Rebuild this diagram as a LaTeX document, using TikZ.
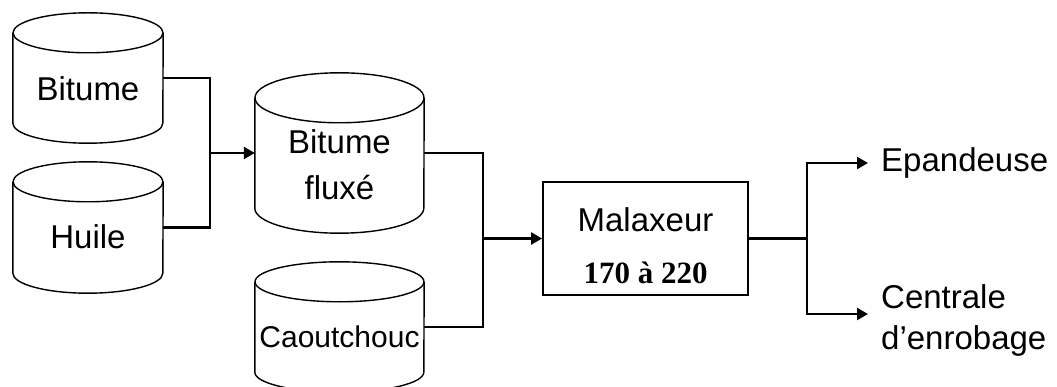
\documentclass[tikz,border=0pt]{standalone}
\usepackage{fontspec}
\setmainfont{Liberation Sans}
\newfontfamily\numfont{Liberation Serif}
\usetikzlibrary{arrows.meta}

% tank outline: node name, x radius, y radius of the lids
\newcommand\drawtank[3]{%
  \draw[tankline] ([yshift=-#3]#1.north) ellipse[x radius=#2,y radius=#3];
  \draw[tankline] ([yshift=-#3]#1.north west) -- ([yshift=#3]#1.south west)
    arc[start angle=180,end angle=360,x radius=#2,y radius=#3]
    -- ([yshift=-#3]#1.north east);
}

\begin{document}
\begin{tikzpicture}[x=1pt,y=-1pt,>={Triangle[length=11pt,width=12pt]},
  tank/.style={rectangle,inner sep=0pt},
  tankline/.style={line width=1.4pt},
  tanktext/.style={align=center,inner sep=0pt,font=\fontsize{33}{46}\selectfont},
  mixer/.style={rectangle,draw,line width=1.8pt,inner sep=0pt,
    minimum width=205pt,minimum height=113pt},
  pipe/.style={line width=2.4pt},
  outtext/.style={anchor=west,inner xsep=13pt,inner ysep=0pt,align=left,
    font=\fontsize{33}{41}\selectfont}]

  \useasboundingbox (0,0) rectangle (1057,387);

  % tanks
  \node[tank,minimum width=150pt,minimum height=130pt,
    label={[tanktext,yshift=-11pt]center:Bitume}] (bit) at (88,78) {};
  \node[tank,minimum width=150pt,minimum height=131pt,
    label={[tanktext,yshift=-9.5pt]center:Huile}] (hui) at (88,227.5) {};
  \node[tank,minimum width=169pt,minimum height=160pt,
    label={[tanktext,yshift=-12pt]center:Bitume\\fluxé}] (flu) at (339.5,153) {};
  \node[tank,minimum width=169pt,minimum height=130pt,
    label={[tanktext,yshift=-10pt,font=\fontsize{30}{36}\selectfont]center:Caoutchouc}] (cao) at (339.5,327) {};
  \drawtank{bit}{75pt}{20pt}
  \drawtank{hui}{75pt}{20pt}
  \drawtank{flu}{84.5pt}{25pt}
  \drawtank{cao}{84.5pt}{20pt}

  \node[mixer,label={[tanktext,yshift=-7pt,font=\fontsize{33}{38}\selectfont]center:Malaxeur\\[14pt]{\numfont\bfseries\fontsize{31}{34}\selectfont 170 à 220}}]
    (mal) at (645.5,238.5) {};

  \node[outtext] (epa) at (868,163) {Epandeuse};
  \node[outtext] (cen) at (868,320) {Centrale\\d’enrobage};

  \coordinate (j1) at (210,153);
  \coordinate (j2) at (483,238.5);
  \coordinate (j3) at (807,238.5);

  \draw[pipe] (bit.east) -| (j1) |- (hui.east);
  \draw[pipe,->] (j1) -- (flu.west);
  \draw[pipe] (flu.east) -| (j2) |- (cao.east);
  \draw[pipe,->] (j2) -- (mal.west);
  \draw[pipe] (mal.east) -- (j3);
  \draw[pipe,->] (j3) |- (epa.west);
  \draw[pipe,->] (j3) |- ([yshift=6pt]cen.west);

\end{tikzpicture}
\end{document}
